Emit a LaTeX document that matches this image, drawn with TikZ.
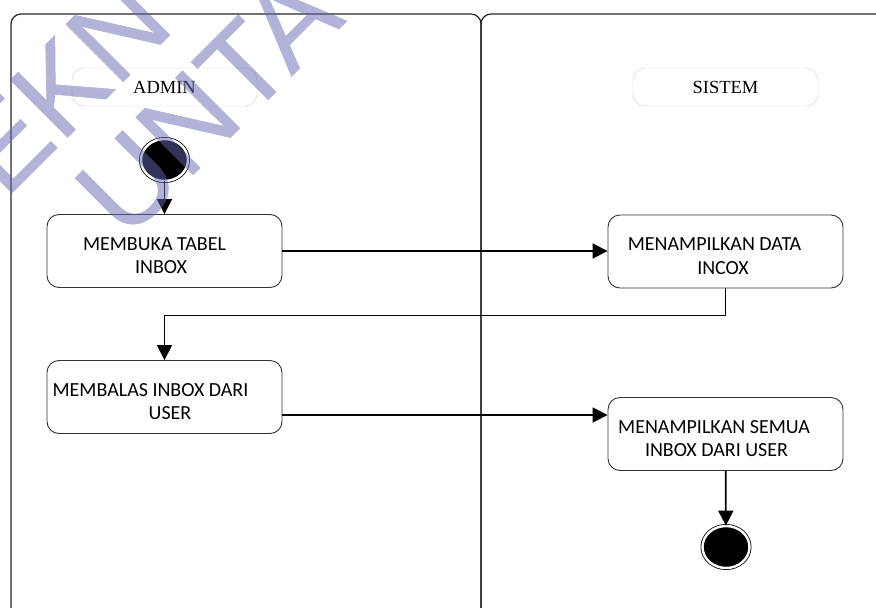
\documentclass[tikz,border=0pt]{standalone}
\usepackage{fontspec}
\setmainfont{Liberation Serif}
\newfontfamily\boxfont{Carlito}
\newfontfamily\markfont{Liberation Sans}[FakeBold=0.5]
\usetikzlibrary{shapes.geometric,arrows.meta}
\definecolor{wmcol}{RGB}{103,103,179}

\begin{document}
\begin{tikzpicture}[x=1pt,y=-1pt,>={Triangle[length=15pt,width=15pt]},line join=round]
\tikzstyle{lane}=[draw=black!85,line width=1.2pt,rounded corners=10pt]
\tikzstyle{actor}=[rectangle,draw=black!20,rounded corners=12pt,minimum width=185pt,minimum height=38pt,font=\fontsize{18.5}{22}\selectfont]
\tikzstyle{act}=[rectangle,draw=black!80,line width=0.9pt,rounded corners=12pt,minimum width=235pt,minimum height=73pt,align=center,text height=46pt,font=\boxfont\fontsize{20}{23.5}\selectfont]
\tikzstyle{dot}=[ellipse,draw=black,fill=black,double=white,double distance=2.4pt,line width=0.8pt,minimum width=47pt,minimum height=42pt,inner sep=0pt]
\tikzstyle{flow}=[->,line width=1.8pt]
\tikzstyle{wmark}=[text=wmcol,rotate=45,anchor=base west,inner sep=0pt,font=\markfont\fontsize{118}{120}\selectfont]
\useasboundingbox (0,0) rectangle (876,608);

\draw[lane] (11,612) -- (11,14) -- (481,14) -- (481,612);
\draw[lane] (481,612) -- (481,14) -- (890,14);

\node[actor] (admin) at (164.5,87) {ADMIN};
\node[actor] (sistem) at (725.5,87) {SISTEM};
\node[dot] (start) at (164.5,160) {};
\node[act] (buka) at (164.5,251) {MEMBUKA TABEL\kern20pt\\INBOX\kern7pt};
\node[act] (tampil) at (725.5,251.5) {MENAMPILKAN DATA\kern22pt\\INCOX\kern5pt};
\node[act] (balas) at (164.5,397) {MEMBALAS INBOX DARI\kern28pt\\\kern11pt USER};
\node[act] (semua) at (725.5,434) {MENAMPILKAN SEMUA\kern23pt\\INBOX DARI USER\kern18pt};
\node[dot] (stop) at (726,547) {};

\draw[flow] (start) -- (buka);
\draw[flow] (buka.east) -- (buka.east -| tampil.west);
\draw[flow] (tampil.south) -- ++(0,27) -| (balas.north);
\draw[flow] ([yshift=-18pt]balas.east) -- ([yshift=-18pt]balas.east -| semua.west);
\draw[flow] (semua) -- (stop);

\begin{scope}[transparency group,opacity=0.5]
\node[wmark] (wmtop) at (5,200) {EKN};
\node[wmark] (wmlow) at (126,242) {UNTA};
\end{scope}
\end{tikzpicture}
\end{document}
